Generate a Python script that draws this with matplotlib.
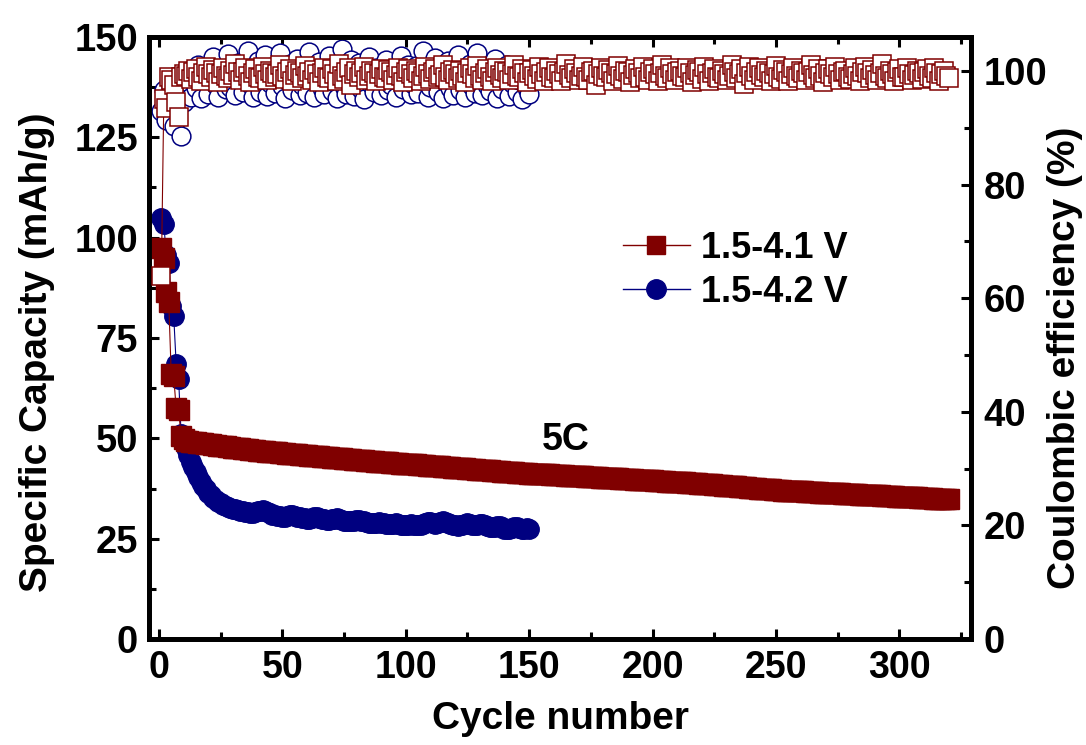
import numpy as np
import matplotlib
matplotlib.use("Agg")
import matplotlib.pyplot as plt
from matplotlib.ticker import MultipleLocator
from matplotlib.lines import Line2D
from matplotlib import font_manager

plt.rcParams['font.family'] = ['Liberation Sans', 'DejaVu Sans']
plt.rcParams['font.weight'] = 'bold'

avail = {f.name for f in font_manager.fontManager.ttflist}
if 'Liberation Sans Narrow' in avail:
    NARROW = ['Liberation Sans Narrow', 'Liberation Sans', 'DejaVu Sans']
    XT_SIZE, LAB_SIZE = 33, 34
else:
    NARROW = ['Liberation Sans', 'DejaVu Sans']
    XT_SIZE, LAB_SIZE = 27, 28

# ---------------- data ----------------
red_label = "1.5-4.1 V"
blue_label = "1.5-4.2 V"

red_capacity = [
    97.5, 95.0, 86.5, 84.0, 66.0, 65.5, 57.5, 57.0, 50.5, 49.8,
    49.4, 49.3, 49.2, 49.1, 49.0, 48.9, 48.8, 48.8, 48.7, 48.6,
    48.5, 48.4, 48.3, 48.2, 48.2, 48.1, 48.0, 47.9, 47.8, 47.7,
    47.7, 47.6, 47.5, 47.4, 47.3, 47.3, 47.2, 47.1, 47.0, 46.9,
    46.9, 46.8, 46.8, 46.7, 46.6, 46.6, 46.5, 46.5, 46.4, 46.4,
    46.3, 46.2, 46.2, 46.1, 46.0, 46.0, 45.9, 45.9, 45.8, 45.8,
    45.7, 45.7, 45.6, 45.5, 45.5, 45.4, 45.4, 45.3, 45.3, 45.2,
    45.2, 45.1, 45.0, 45.0, 44.9, 44.9, 44.8, 44.8, 44.7, 44.7,
    44.6, 44.5, 44.5, 44.4, 44.4, 44.3, 44.3, 44.2, 44.2, 44.1,
    44.1, 44.0, 44.0, 43.9, 43.9, 43.8, 43.8, 43.7, 43.7, 43.7,
    43.6, 43.6, 43.5, 43.5, 43.4, 43.4, 43.3, 43.3, 43.2, 43.2,
    43.1, 43.1, 43.0, 43.0, 42.9, 42.9, 42.8, 42.8, 42.7, 42.7,
    42.6, 42.6, 42.5, 42.5, 42.4, 42.4, 42.3, 42.3, 42.2, 42.2,
    42.1, 42.1, 42.0, 42.0, 41.9, 41.9, 41.8, 41.8, 41.7, 41.7,
    41.6, 41.6, 41.5, 41.5, 41.4, 41.4, 41.4, 41.3, 41.3, 41.2,
    41.2, 41.2, 41.1, 41.1, 41.1, 41.0, 41.0, 41.0, 40.9, 40.9,
    40.9, 40.8, 40.8, 40.8, 40.7, 40.7, 40.6, 40.6, 40.6, 40.5,
    40.5, 40.5, 40.4, 40.4, 40.4, 40.3, 40.3, 40.3, 40.2, 40.2,
    40.2, 40.1, 40.1, 40.1, 40.0, 40.0, 39.9, 39.9, 39.9, 39.8,
    39.8, 39.8, 39.7, 39.7, 39.7, 39.6, 39.6, 39.6, 39.5, 39.5,
    39.4, 39.4, 39.4, 39.3, 39.3, 39.2, 39.2, 39.2, 39.1, 39.1,
    39.0, 39.0, 39.0, 38.9, 38.9, 38.8, 38.8, 38.8, 38.7, 38.7,
    38.6, 38.6, 38.5, 38.5, 38.4, 38.4, 38.3, 38.3, 38.2, 38.2,
    38.1, 38.1, 38.0, 38.0, 37.9, 37.9, 37.8, 37.8, 37.7, 37.7,
    37.6, 37.6, 37.5, 37.5, 37.4, 37.4, 37.3, 37.3, 37.2, 37.2,
    37.1, 37.1, 37.0, 37.0, 37.0, 36.9, 36.9, 36.9, 36.8, 36.8,
    36.8, 36.7, 36.7, 36.7, 36.6, 36.6, 36.6, 36.5, 36.5, 36.5,
    36.4, 36.4, 36.4, 36.3, 36.3, 36.3, 36.2, 36.2, 36.2, 36.2,
    36.1, 36.1, 36.1, 36.0, 36.0, 36.0, 35.9, 35.9, 35.9, 35.8,
    35.8, 35.8, 35.7, 35.7, 35.7, 35.6, 35.6, 35.6, 35.5, 35.5,
    35.5, 35.4, 35.4, 35.4, 35.3, 35.3, 35.3, 35.2, 35.2, 35.2,
    35.1, 35.1, 35.1, 35.0, 35.0, 35.0, 35.0, 34.9, 34.9, 34.9,
]

red_efficiency = [
    64.0, 95.0, 93.5, 99.0, 98.5, 97.5, 94.5, 92.0, 99.0, 99.5,
    99.2, 100.1, 98.6, 99.8, 100.4, 99.0, 98.3, 99.6, 100.8, 99.4,
    98.9, 100.2, 99.7, 98.1, 99.5, 100.6, 99.1, 98.7, 100.0, 99.3,
    101.2, 99.8, 98.5, 99.9, 100.5, 99.2, 98.0, 99.6, 100.3, 99.0,
    98.8, 100.7, 99.4, 98.4, 100.1, 99.7, 98.9, 99.5, 101.0, 99.2,
    98.6, 99.9, 100.4, 98.2, 99.3, 100.0, 99.6, 98.7, 100.9, 99.1,
    99.8, 98.5, 100.2, 99.4, 98.0, 99.7, 100.6, 99.0, 98.8, 100.3,
    99.5, 98.3, 101.3, 99.2, 98.6, 99.9, 100.5, 97.5, 99.4, 100.1,
    98.9, 99.6, 100.8, 98.4, 99.1, 100.0, 99.7, 98.2, 99.5, 100.4,
    99.0, 98.7, 100.2, 99.8, 98.5, 99.3, 100.6, 99.1, 98.0, 99.9,
    100.3, 99.4, 98.8, 100.0, 99.6, 98.3, 99.2, 100.7, 99.5, 98.6,
    99.9, 100.4, 98.9, 99.3, 101.1, 99.0, 98.4, 99.8, 100.2, 99.5,
    98.7, 100.0, 99.2, 98.1, 99.7, 100.5, 99.4, 98.8, 100.9, 99.1,
    98.5, 99.6, 100.3, 99.0, 98.2, 99.9, 100.6, 99.3, 98.7, 100.1,
    99.8, 98.4, 99.5, 101.0, 99.2, 98.9, 100.4, 99.6, 98.0, 99.7,
    100.2, 99.1, 98.6, 100.7, 99.4, 98.3, 99.9, 100.5, 99.0, 98.8,
    100.0, 99.5, 98.2, 99.8, 101.2, 99.3, 98.7, 100.3, 99.6, 98.5,
    99.2, 100.8, 99.0, 98.4, 99.9, 100.1, 97.6, 99.4, 100.6, 99.1,
    98.9, 100.2, 99.7, 98.3, 99.5, 100.9, 99.2, 98.6, 100.0, 99.8,
    98.1, 99.3, 100.4, 99.6, 98.8, 100.7, 99.0, 98.5, 99.9, 100.3,
    99.4, 98.2, 99.7, 101.0, 99.1, 98.7, 100.5, 99.5, 98.4, 99.8,
    100.1, 99.2, 98.9, 100.6, 99.6, 98.0, 99.3, 100.2, 99.9, 98.6,
    100.8, 99.4, 98.3, 99.7, 100.4, 99.0, 98.8, 100.0, 99.5, 98.5,
    99.2, 101.1, 99.8, 98.7, 99.4, 100.3, 97.8, 99.6, 100.7, 99.1,
    98.4, 99.9, 100.5, 99.3, 98.9, 100.1, 99.7, 98.2, 99.5, 100.9,
    99.0, 98.6, 100.2, 99.8, 98.3, 99.4, 100.6, 99.2, 98.8, 100.0,
    99.6, 98.5, 99.9, 101.0, 99.3, 98.7, 100.4, 99.1, 98.1, 99.7,
    100.3, 99.5, 98.9, 100.8, 99.4, 98.4, 99.8, 100.1, 99.0, 98.6,
    99.5, 100.5, 99.2, 98.3, 99.9, 100.7, 99.6, 98.8, 100.2, 99.3,
    98.5, 99.7, 101.2, 99.1, 98.7, 100.0, 99.4, 98.2, 99.8, 100.4,
    99.0, 98.9, 100.6, 99.5, 98.4, 99.3, 100.1, 99.7, 98.6, 99.9,
    100.3, 99.2, 98.8, 100.5, 99.6, 98.3, 99.4, 100.0, 99.1, 98.7,
]

blue_capacity = [
    104.8, 103.5, 95.6, 93.6, 83.0, 80.6, 68.6, 64.8, 51.2, 49.5,
    47.5, 45.8, 44.2, 42.8, 41.5, 40.3, 39.2, 38.2, 37.3, 36.5,
    35.8, 35.2, 34.7, 34.2, 33.8, 33.5, 33.2, 32.9, 32.7, 32.5,
    32.3, 32.1, 31.9, 31.8, 31.7, 31.6, 31.5, 31.4, 31.6, 31.8,
    32.0, 32.1, 31.9, 31.6, 31.3, 31.0, 30.8, 30.7, 30.6, 30.5,
    30.5, 30.6, 30.8, 30.9, 30.7, 30.5, 30.3, 30.2, 30.1, 30.0,
    30.0, 30.2, 30.4, 30.3, 30.1, 29.9, 29.8, 29.7, 29.7, 29.8,
    30.0, 30.1, 29.9, 29.7, 29.5, 29.4, 29.3, 29.3, 29.4, 29.6,
    29.7, 29.5, 29.3, 29.1, 29.0, 28.9, 28.9, 29.0, 29.1, 29.0,
    28.8, 28.7, 28.6, 28.6, 28.7, 28.8, 28.7, 28.5, 28.4, 28.4,
    28.5, 28.6, 28.5, 28.4, 28.3, 28.4, 28.7, 29.0, 29.2, 29.1,
    28.9, 28.7, 28.8, 29.1, 29.3, 29.2, 28.9, 28.6, 28.4, 28.3,
    28.2, 28.3, 28.5, 28.7, 28.8, 28.6, 28.4, 28.3, 28.4, 28.6,
    28.7, 28.5, 28.2, 28.0, 27.8, 27.9, 28.1, 28.2, 27.9, 27.5,
    27.3, 27.4, 27.7, 27.9, 27.8, 27.6, 27.4, 27.5, 27.6, 27.5,
]

blue_efficiency = [
    93.0, 96.6, 91.4, 95.5, 97.0, 90.3, 95.3, 96.0, 88.6, 94.5,
    96.5, 98.0, 95.5, 99.5, 97.0, 101.0, 95.3, 98.5, 100.0, 96.0,
    99.0, 102.5, 97.5, 95.5, 98.8, 100.5, 96.8, 103.0, 97.2, 99.5,
    95.8, 101.5, 98.2, 96.3, 100.2, 103.5, 97.8, 95.4, 99.2, 101.8,
    96.4, 98.6, 102.8, 95.6, 97.9, 100.8, 96.1, 99.7, 103.2, 97.3,
    95.2, 98.4, 101.2, 96.7, 99.9, 102.2, 95.7, 97.6, 100.4, 96.2,
    103.4, 98.9, 95.5, 99.3, 101.6, 97.1, 95.9, 100.7, 102.6, 96.5,
    98.1, 95.3, 99.6, 103.8, 97.4, 96.0, 100.1, 102.0, 95.6, 98.7,
    101.4, 96.9, 95.1, 99.8, 102.4, 97.7, 96.3, 100.6, 98.3, 95.8,
    99.1, 101.9, 96.6, 97.5, 100.3, 95.4, 98.8, 102.7, 96.8, 99.4,
    101.1, 95.9, 97.8, 100.9, 96.2, 98.5, 103.6, 99.0, 95.5, 97.2,
    100.5, 102.3, 96.4, 99.6, 95.2, 98.2, 101.7, 97.0, 95.7, 100.0,
    102.9, 96.7, 98.6, 95.4, 99.3, 101.3, 97.4, 96.1, 103.1, 98.0,
    95.8, 100.2, 97.6, 96.5, 99.7, 102.1, 95.3, 98.9, 96.9, 99.5,
    101.0, 95.6, 97.9, 100.4, 96.3, 98.4, 95.1, 99.2, 97.1, 96.0,
]

red_cycles = np.arange(1, len(red_capacity) + 1)
blue_cycles = np.arange(1, len(blue_capacity) + 1)

x_ticks = [0, 50, 100, 150, 200, 250, 300]
left_ticks = [0, 25, 50, 75, 100, 125, 150]
right_ticks = [0, 20, 40, 60, 80, 100]

RED = "#800000"
BLUE = "#000080"

# ---------------- figure ----------------
W, H = 1086, 745
fig = plt.figure(figsize=(W / 100, H / 100), dpi=100)
ax = fig.add_axes([149 / W, 1 - 639 / H, (971 - 149) / W, (639 - 37) / H])
ax2 = ax.twinx()

ax.plot(blue_cycles, blue_capacity, color=BLUE, lw=0.8, marker='o', ms=14,
        mfc=BLUE, mec=BLUE, mew=1.0, zorder=2)
ax.plot(red_cycles, red_capacity, color=RED, lw=0.8, marker='s', ms=14,
        mfc=RED, mec=RED, mew=1.0, zorder=3)

ax2.plot(blue_cycles, blue_efficiency, color=BLUE, lw=0.8, marker='o', ms=13.5,
         mfc='white', mec=BLUE, mew=1.1, zorder=2)
ax2.plot(red_cycles, red_efficiency, color=RED, lw=0.8, marker='s', ms=12.5,
         mfc='white', mec=RED, mew=1.1, zorder=3)

ax.set_xlim(-4, 329)
ax.set_ylim(0, 150)
ax2.set_ylim(0, 106)

ax.set_xticks(x_ticks)
ax.set_yticks(left_ticks)
ax2.set_yticks(right_ticks)
ax.xaxis.set_minor_locator(MultipleLocator(25))
ax.yaxis.set_minor_locator(MultipleLocator(12.5))
ax2.yaxis.set_minor_locator(MultipleLocator(10))

for a in (ax, ax2):
    for s in a.spines.values():
        s.set_linewidth(3.5)

ax.tick_params(axis='x', which='both', direction='in', top=True, bottom=True,
               pad=8, width=2.2)
ax.tick_params(axis='y', which='both', direction='in', left=True, right=False,
               labelsize=27.5, pad=8, width=2.2)
ax2.tick_params(axis='y', which='both', direction='in', labelsize=27.5, pad=9, width=2.2)
for a in (ax, ax2):
    a.tick_params(which='major', length=7)
    a.tick_params(which='minor', length=5)
for lab in ax.get_yticklabels() + ax2.get_yticklabels():
    lab.set_fontweight('bold')
for lab in ax.get_xticklabels():
    lab.set_fontfamily(NARROW)
    lab.set_fontsize(XT_SIZE)
    lab.set_fontweight('bold')

fig.text(560 / W, 1 - 719 / H, "Cycle number", fontsize=LAB_SIZE, fontweight='bold',
         family=NARROW, ha='center', va='center')
fig.text(37 / W, 1 - 352 / H, "Specific Capacity (mAh/g)", fontsize=LAB_SIZE,
         fontweight='bold', family=NARROW, rotation=90, ha='center', va='center')
fig.text(1065 / W, 1 - 358 / H, "Coulombic efficiency (%)", fontsize=LAB_SIZE,
         fontweight='bold', family=NARROW, rotation=90, ha='center', va='center')

ax.text(165, 49.5, "5C", fontsize=27, fontweight='bold', ha='center', va='center')

handles = [
    Line2D([], [], color=RED, lw=1.0, marker='s', ms=13, mfc=RED, mec=RED),
    Line2D([], [], color=BLUE, lw=1.0, marker='o', ms=14, mfc=BLUE, mec=BLUE),
]
ax2.legend(handles, [red_label, blue_label], loc='upper left',
           bbox_to_anchor=(623 / W, 1 - 231 / H), bbox_transform=fig.transFigure,
           frameon=False, handlelength=1.85, handletextpad=0.3,
           labelspacing=0.25, borderpad=0, borderaxespad=0,
           prop={'weight': 'bold', 'size': 26})

fig.savefig("out.png", dpi=100)
